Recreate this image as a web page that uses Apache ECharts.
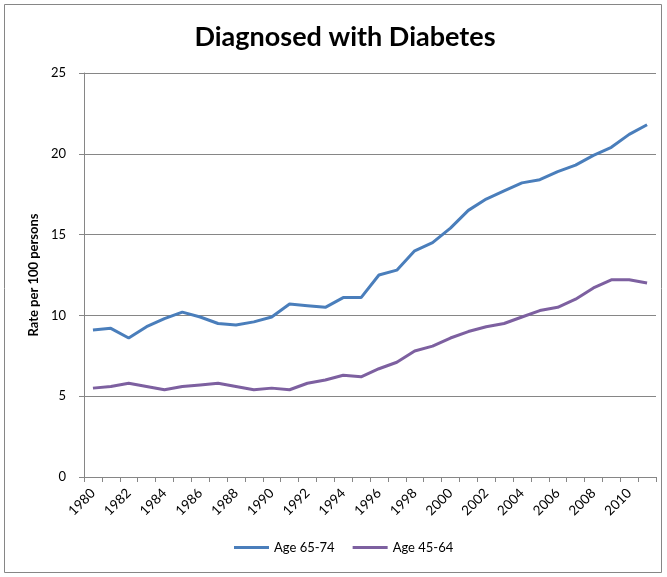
<!DOCTYPE html>
<html>
<head>
<meta charset="utf-8">
<script src="https://cdn.jsdelivr.net/npm/echarts@6/dist/echarts.min.js"></script>
<style>
  html, body { margin: 0; padding: 0; background: #fff; }
  #chart { width: 667px; height: 577px; }
</style>
</head>
<body>
<div id="chart"></div>
<script>
// years 1980..2011
var years = [
  "1980", "1981", "1982", "1983", "1984", "1985", "1986", "1987",
  "1988", "1989", "1990", "1991", "1992", "1993", "1994", "1995",
  "1996", "1997", "1998", "1999", "2000", "2001", "2002", "2003",
  "2004", "2005", "2006", "2007", "2008", "2009", "2010", "2011"
];
var age6574 = [
  9.1, 9.2, 8.6, 9.3, 9.8, 10.2, 9.9, 9.5,
  9.4, 9.6, 9.9, 10.7, 10.6, 10.5, 11.1, 11.1,
  12.5, 12.8, 14.0, 14.5, 15.4, 16.5, 17.2, 17.7,
  18.2, 18.4, 18.9, 19.3, 19.9, 20.4, 21.2, 21.8
];
var age4564 = [
  5.5, 5.6, 5.8, 5.6, 5.4, 5.6, 5.7, 5.8,
  5.6, 5.4, 5.5, 5.4, 5.8, 6.0, 6.3, 6.2,
  6.7, 7.1, 7.8, 8.1, 8.6, 9.0, 9.3, 9.5,
  9.9, 10.3, 10.5, 11.0, 11.7, 12.2, 12.2, 12.0
];

var chart = echarts.init(document.getElementById("chart"));
var font = "Lato, 'Open Sans', sans-serif";
chart.setOption({
  animation: false,
  textStyle: { fontFamily: font },
  title: {
    text: "Diagnosed with Diabetes",
    left: 340,
    textAlign: "center",
    top: 19,
    textStyle: { fontSize: 27, fontWeight: "bold", color: "#000", fontFamily: font }
  },
  graphic: [{
    type: "rect",
    shape: { x: 4.5, y: 4.5, width: 657, height: 568 },
    style: { fill: "none", stroke: "#868686", lineWidth: 1 },
    silent: true
  }],
  legend: {
    bottom: 18,
    left: 229,
    icon: "rect",
    itemWidth: 35,
    itemHeight: 3,
    itemGap: 18,
    textStyle: { fontSize: 13, color: "#000" },
    data: ["Age 65-74", "Age 45-64"]
  },
  grid: { left: 84, top: 73, right: 11, bottom: 100 },
  xAxis: {
    type: "category",
    data: years,
    boundaryGap: true,
    axisLine: { lineStyle: { color: "#868686" } },
    axisTick: { show: true, length: 5, interval: 0, lineStyle: { color: "#868686" } },
    axisLabel: { interval: 1, rotate: 45, fontSize: 13.5, color: "#000", margin: 14 },
    splitLine: { show: false }
  },
  yAxis: {
    type: "value",
    min: 0,
    max: 25,
    interval: 5,
    name: "Rate per 100 persons",
    nameLocation: "middle",
    nameGap: 44,
    nameTextStyle: { fontSize: 13, fontWeight: "bold", color: "#000" },
    axisLine: { show: true, lineStyle: { color: "#868686" } },
    axisTick: { show: true, length: 5, lineStyle: { color: "#868686" } },
    axisLabel: { fontSize: 13, color: "#000", margin: 18 },
    splitLine: { lineStyle: { color: "#868686", width: 1 } }
  },
  series: [
    {
      name: "Age 65-74",
      type: "line",
      data: age6574,
      symbol: "none",
      color: "#4A7EBB",
      lineStyle: { width: 3, color: "#4A7EBB" }
    },
    {
      name: "Age 45-64",
      type: "line",
      data: age4564,
      symbol: "none",
      color: "#7D60A0",
      lineStyle: { width: 3, color: "#7D60A0" }
    }
  ]
});
</script>
</body>
</html>
